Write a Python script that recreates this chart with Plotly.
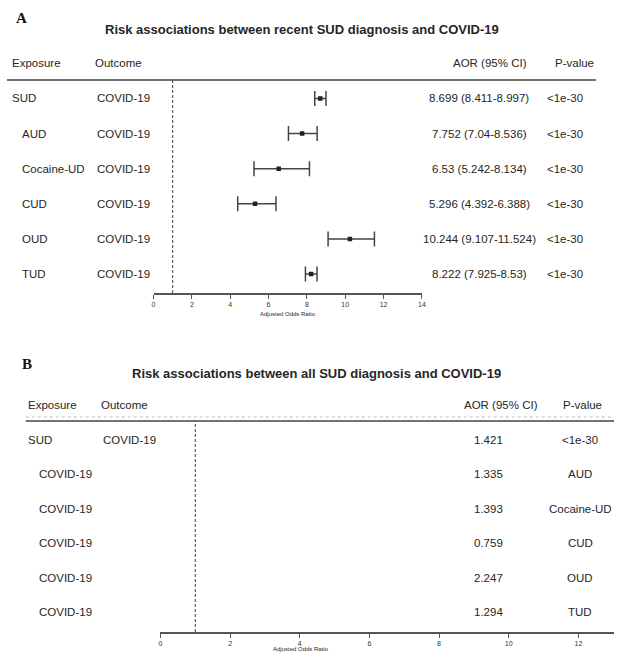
import plotly.graph_objects as go

W, H = 618, 654

# ---------------- data ----------------
exposures_a = ["SUD", "AUD", "Cocaine-UD", "CUD", "OUD", "TUD"]
outcomes_a = ["COVID-19"] * 6
aor_a = [8.699, 7.752, 6.53, 5.296, 10.244, 8.222]
lo_a = [8.411, 7.04, 5.242, 4.392, 9.107, 7.925]
hi_a = [8.997, 8.536, 8.134, 6.388, 11.524, 8.53]
aor_text_a = ["8.699 (8.411-8.997)", "7.752 (7.04-8.536)", "6.53 (5.242-8.134)",
              "5.296 (4.392-6.388)", "10.244 (9.107-11.524)", "8.222 (7.925-8.53)"]
pval_a = ["<1e-30"] * 6

exposures_b = ["SUD", "", "", "", "", ""]
outcomes_b = ["COVID-19"] * 6
aor_b = [1.421, 1.335, 1.393, 0.759, 2.247, 1.294]
aor_text_b = ["1.421", "1.335", "1.393", "0.759", "2.247", "1.294"]
pval_b = ["<1e-30", "AUD", "Cocaine-UD", "CUD", "OUD", "TUD"]

ticks_a = [0, 2, 4, 6, 8, 10, 12, 14]
ticks_b = [0, 2, 4, 6, 8, 10, 12]

TXT = "#262626"
FONT = "Liberation Sans, Arial, sans-serif"


def px(x):
    return x / W


def py(y):
    return 1 - y / H


rows = list(range(6))

fig = go.Figure()

# Panel A forest points
fig.add_trace(go.Scatter(
    x=aor_a, y=rows, mode="markers",
    marker=dict(symbol="square", size=4.5, color="#222"),
    error_x=dict(type="data", symmetric=False,
                 array=[h - a for h, a in zip(hi_a, aor_a)],
                 arrayminus=[a - l for a, l in zip(aor_a, lo_a)],
                 color="#444", thickness=1.5, width=7.5),
    xaxis="x", yaxis="y", showlegend=False, hoverinfo="skip"))

# Panel B (no visible markers in reference) - invisible placeholder to hold axes
fig.add_trace(go.Scatter(
    x=aor_b, y=rows, mode="markers", marker=dict(size=1, opacity=0),
    xaxis="x2", yaxis="y2", showlegend=False, hoverinfo="skip"))

ann = []


def text(x, y, s, size=11.5, anchor="left", yref="paper", bold=False,
         family=FONT, color=TXT):
    ann.append(dict(x=x, y=y, xref="paper", yref=yref, text=("<b>%s</b>" % s) if bold else s,
                    showarrow=False, xanchor=anchor, yanchor="middle",
                    font=dict(family=family, size=size, color=color)))


# ---- Panel A texts ----
text(px(12), py(18), "A", size=15, anchor="left", bold=True,
     family="Liberation Serif, Times New Roman, serif", color="#111")
text(px(303), py(30), "Risk associations between recent SUD diagnosis and COVID-19",
     size=13, anchor="center", bold=True)
text(px(8), py(63), "Exposure")
text(px(92), py(63), "Outcome")
text(px(532), py(63), "AOR (95% CI)", anchor="right")
text(px(578), py(63), "P-value", anchor="center")
for i in rows:
    text(px(8 if i == 0 else 18), i, exposures_a[i], yref="y")
    text(px(94), i, outcomes_a[i], yref="y")
    text(px(482), i, aor_text_a[i], yref="y", anchor="center")
    text(px(569), i, pval_a[i], yref="y", anchor="center")
text(px(289), py(314), "Adjusted Odds Ratio", size=6, anchor="center")

# ---- Panel B texts ----
text(px(18), py(364), "B", size=15, anchor="left", bold=True,
     family="Liberation Serif, Times New Roman, serif", color="#111")
text(px(318), py(373), "Risk associations between all SUD diagnosis and COVID-19",
     size=13, anchor="center", bold=True)
text(px(24), py(405), "Exposure")
text(px(98), py(405), "Outcome")
text(px(504), py(405), "AOR (95% CI)", anchor="center")
text(px(586), py(405), "P-value", anchor="center")
for i in rows:
    if i == 0:
        text(px(24), i, exposures_b[i], yref="y2")
        text(px(100), i, outcomes_b[i], yref="y2")
    else:
        text(px(35), i, outcomes_b[i], yref="y2")
    text(px(491), i, aor_text_b[i], yref="y2", anchor="center")
    text(px(584), i, pval_b[i], yref="y2", anchor="center")
text(px(302), py(649), "Adjusted Odds Ratio", size=6, anchor="center")

shapes = [
    # header rules
    dict(type="line", xref="paper", yref="paper", x0=px(5), x1=px(600), y0=py(80), y1=py(80),
         line=dict(color="#444", width=1.6)),
    dict(type="line", xref="paper", yref="paper", x0=px(24), x1=px(618), y0=py(417), y1=py(417),
         line=dict(color="#bbb", width=1, dash="dot")),
    dict(type="line", xref="paper", yref="paper", x0=px(24), x1=px(618), y0=py(421), y1=py(421),
         line=dict(color="#444", width=1.6)),
    # reference lines at OR = 1
    dict(type="line", xref="x", yref="y domain", x0=1, x1=1, y0=0, y1=1,
         line=dict(color="#444", width=1, dash="3px,2px")),
    dict(type="line", xref="x2", yref="y2 domain", x0=1, x1=1, y0=0, y1=1,
         line=dict(color="#444", width=1, dash="3px,2px")),
]

axis_common = dict(showgrid=False, zeroline=False, showline=True, linecolor="#555", linewidth=1.8,
                   ticks="outside", ticklen=4, tickwidth=1, tickcolor="#555",
                   tickfont=dict(family=FONT, size=7, color="#333"), fixedrange=True)

fig.update_layout(
    width=W, height=H, margin=dict(l=0, r=0, t=0, b=0),
    paper_bgcolor="white", plot_bgcolor="rgba(0,0,0,0)",
    xaxis=dict(domain=[px(153), px(424)], range=[0, 14], tickvals=ticks_a,
               anchor="y", **axis_common),
    yaxis=dict(domain=[py(293), py(80)], range=[5.54, -0.527], visible=False,
               anchor="x", fixedrange=True),
    xaxis2=dict(domain=[px(160), 1], range=[0, (618 - 160) / 35.17], tickvals=ticks_b,
                anchor="y2", **axis_common),
    yaxis2=dict(domain=[py(632), py(421)], range=[5.58, -0.552], visible=False,
                anchor="x2", fixedrange=True),
    annotations=ann, shapes=shapes, showlegend=False,
)

fig.write_html("out.html", config={"displayModeBar": False},
               post_script="document.body.style.margin='0px';document.body.style.overflow='hidden';")
